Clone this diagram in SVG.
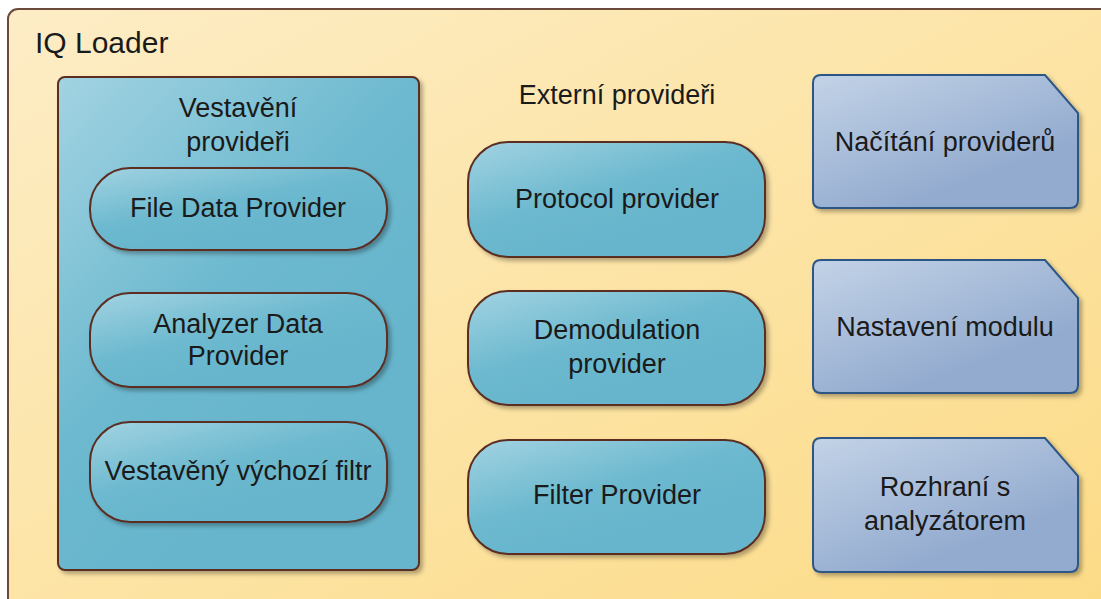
<svg xmlns="http://www.w3.org/2000/svg" width="1101" height="599" viewBox="0 0 1101 599">
<style>
text{font-family:"Liberation Sans",Arial,sans-serif;fill:#1a1a1a;}
.lbl{font-size:27px;text-anchor:middle;}
.teal{fill:url(#gTeal);stroke:#5b2e24;stroke-width:2;filter:url(#sh);}
.note{fill:url(#gBlue);stroke:#2d5685;stroke-width:2;filter:url(#sh);}
</style>
<defs>
<linearGradient id="gBg" x1="0" y1="0" x2="1" y2="1">
<stop offset="0" stop-color="#fdedc6"/><stop offset="1" stop-color="#fcdb86"/>
</linearGradient>
<linearGradient id="gTeal" x1="0" y1="0" x2="0.6" y2="0.8">
<stop offset="0" stop-color="#a2d3e2"/><stop offset="0.6" stop-color="#6db9cf"/><stop offset="1" stop-color="#66b5cc"/>
</linearGradient>
<linearGradient id="gBlue" x1="0" y1="0" x2="0.6" y2="0.8">
<stop offset="0" stop-color="#c3d3e7"/><stop offset="1" stop-color="#93abcf"/>
</linearGradient>
<filter id="sh" x="-10%" y="-10%" width="125%" height="125%">
<feDropShadow dx="3" dy="3" stdDeviation="2" flood-color="#000" flood-opacity="0.3"/>
</filter>
</defs>
<g id="iq-loader">
<rect x="8" y="9" width="1110" height="600" rx="10" fill="url(#gBg)" stroke="#6b4a3c" stroke-width="2"/>
<text x="35" y="53" font-size="30">IQ Loader</text>
</g>
<g id="vestaveni">
<rect class="teal" x="58" y="77" width="361" height="493" rx="7"/>
<text class="lbl" x="238" y="117">Vestavění</text>
<text class="lbl" x="238" y="151">provideři</text>
</g>
<g id="file-data-provider">
<rect class="teal" x="90" y="168" width="297" height="82" rx="40"/>
<text class="lbl" x="238" y="217">File Data Provider</text>
</g>
<g id="analyzer-data-provider">
<rect class="teal" x="90" y="293" width="297" height="94" rx="40"/>
<text class="lbl" x="238" y="333">Analyzer Data</text>
<text class="lbl" x="238" y="365">Provider</text>
</g>
<g id="vestaveny-filtr">
<rect class="teal" x="90" y="422" width="297" height="100" rx="40"/>
<text class="lbl" x="238" y="480">Vestavěný výchozí filtr</text>
</g>
<g id="externi">
<text class="lbl" x="617" y="104">Externí provideři</text>
</g>
<g id="protocol-provider">
<rect class="teal" x="468" y="142" width="297" height="115" rx="40"/>
<text class="lbl" x="617" y="208">Protocol provider</text>
</g>
<g id="demodulation-provider">
<rect class="teal" x="468" y="291" width="297" height="114" rx="40"/>
<text class="lbl" x="617" y="339">Demodulation</text>
<text class="lbl" x="617" y="373">provider</text>
</g>
<g id="filter-provider">
<rect class="teal" x="468" y="440" width="297" height="114" rx="40"/>
<text class="lbl" x="617" y="504">Filter Provider</text>
</g>
<g id="nacitani">
<path class="note" d="M821,75 H1045 L1078,113 V200 Q1078,208 1070,208 H821 Q813,208 813,200 V83 Q813,75 821,75 Z"/>
<text class="lbl" x="945" y="151">Načítání providerů</text>
</g>
<g id="nastaveni">
<path class="note" d="M821,260 H1045 L1078,298 V385 Q1078,393 1070,393 H821 Q813,393 813,385 V268 Q813,260 821,260 Z"/>
<text class="lbl" x="945" y="336">Nastavení modulu</text>
</g>
<g id="rozhrani">
<path class="note" d="M821,438 H1045 L1078,476 V564 Q1078,572 1070,572 H821 Q813,572 813,564 V446 Q813,438 821,438 Z"/>
<text class="lbl" x="945" y="496">Rozhraní s</text>
<text class="lbl" x="945" y="530">analyzátorem</text>
</g>
<g id="connectors"></g>
</svg>
